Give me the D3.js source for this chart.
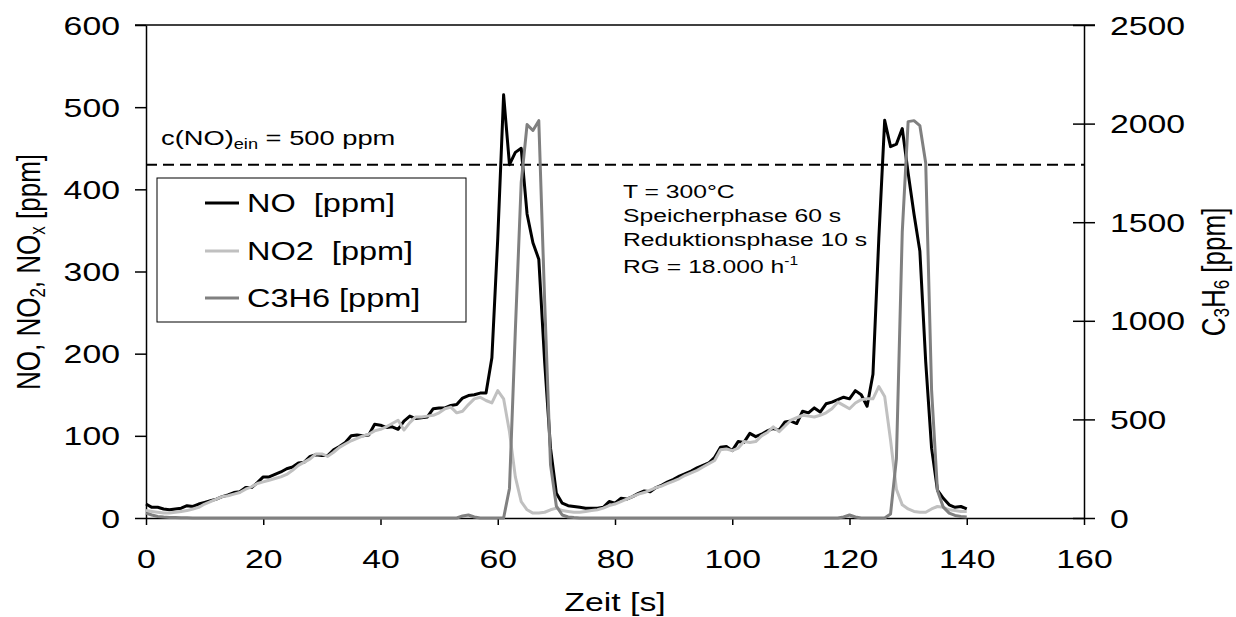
<!DOCTYPE html>
<html><head><meta charset="utf-8">
<script src="https://cdn.jsdelivr.net/npm/d3@7"></script>
<style>
body{margin:0;background:#fff}
text{font-family:"Liberation Sans",Arial,Helvetica,sans-serif;fill:#000}
</style>
</head><body>
<svg id="chart" width="1236" height="617"></svg>
<script>
// ---------------- DATA ----------------
const time = [0,1,2,3,4,5,6,7,8,9,10,11,12,13,14,15,16,17,18,19,20,21,22,23,24,25,26,27,28,29,30,31,32,33,34,35,36,37,38,39,40,41,42,43,44,45,46,47,48,49,50,51,52,53,54,55,56,57,58,59,60,61,62,63,64,65,66,67,68,69,70,71,72,73,74,75,76,77,78,79,80,81,82,83,84,85,86,87,88,89,90,91,92,93,94,95,96,97,98,99,100,101,102,103,104,105,106,107,108,109,110,111,112,113,114,115,116,117,118,119,120,121,122,123,124,125,126,127,128,129,130,131,132,133,134,135,136,137,138,139,140];

const seriesNO = [
 17,13,13,11,10,11,12,15,14,17,
 19,21,23,26,28,31,32,37,37,43,
 50,50,53,56,60,62,67,68,75,77,
 76,76,83,87,92,100,101,100,101,114,
 113,110,111,108,118,124,121,122,123,133,
 134,134,137,138,146,149,150,152,152,195,
 340,515,430,445,450,370,335,315,190,85,
 30,18,15,14,13,12,12,12,13,20,
 18,24,23,26,30,33,32,37,40,44,
 47,51,54,57,61,64,67,74,86,87,
 82,93,92,103,99,102,106,109,107,117,
 118,115,130,128,134,129,139,141,144,147,
 145,155,150,136,175,340,484,452,455,474,
 420,370,325,190,85,34,24,16,13,14,
 11];

const seriesNO2 = [
 9,8,7,6,6,7,8,9,11,13,
 17,20,23,26,27,29,31,35,38,42,
 44,46,48,50,53,58,64,68,72,78,
 78,75,80,86,90,94,97,100,102,106,
 108,111,115,119,107,116,123,123,124,125,
 128,133,135,128,130,138,145,147,143,140,
 155,145,105,50,20,10,6,6,7,10,
 12,9,8,7,7,8,9,10,12,15,
 17,20,23,26,29,31,34,37,39,42,
 45,48,52,55,58,62,66,70,83,84,
 82,85,93,92,93,100,104,111,105,112,
 119,122,125,124,123,125,128,133,141,137,
 133,140,144,145,145,160,148,95,35,16,
 11,8,7,7,11,14,13,10,9,8,
 8];

const seriesC3H6 = [
 25,15,8,5,3,2,1,1,0,0,
 0,0,0,0,0,0,0,0,0,0,
 0,0,0,0,0,0,0,0,0,0,
 0,0,0,0,0,0,0,0,0,0,
 0,0,0,0,0,0,0,0,0,0,
 0,0,0,0,10,15,5,0,0,0,
 0,0,150,950,1700,1995,1965,2015,1100,270,
 60,15,5,2,0,0,0,0,0,0,
 0,0,0,0,0,0,0,0,0,0,
 0,0,0,0,0,0,0,0,0,0,
 0,0,0,0,0,0,0,0,0,0,
 0,0,0,0,0,0,0,0,0,5,
 15,5,0,0,0,0,0,20,300,1450,
 2010,2015,1990,1800,650,140,55,25,13,8,
 5];

const seriesNames  = ["NO  [ppm]", "NO2  [ppm]", "C3H6 [ppm]"];
const seriesColors = ["#000000", "#c0c0c0", "#808080"];
const xTicks      = [0,20,40,60,80,100,120,140,160];
const yLeftTicks  = [0,100,200,300,400,500,600];
const yRightTicks = [0,500,1000,1500,2000,2500];
const inletLevel  = 430;   // dashed reference line (left axis units)
const infoLines   = ["T = 300°C", "Speicherphase 60 s", "Reduktionsphase 10 s"];

// ---------------- LAYOUT ----------------
const svg = d3.select("#chart");
const L = 146, R = 1084, T = 25, B = 518;
const SX = 1.3;            // horizontal text stretch of the original
const x  = d3.scaleLinear().domain([0,160]).range([L,R]);
const yL = d3.scaleLinear().domain([0,600]).range([B,T]);
const yR = d3.scaleLinear().domain([0,2500]).range([B,T]);
const fmt = d3.format("d");

// top frame line
svg.append("line").attr("x1",135).attr("x2",1095).attr("y1",T).attr("y2",T)
  .attr("stroke","#000").attr("stroke-width",1.5);

// left axis
const gL = svg.append("g").attr("transform",`translate(${L},0)`)
  .call(d3.axisLeft(yL).tickValues(yLeftTicks).tickFormat(fmt).tickSize(11).tickSizeOuter(0).tickPadding(15));
gL.selectAll("text").each(function(){
  const t = d3.select(this); const xx = +t.attr("x");
  t.attr("x",0).attr("dy","0.35em").attr("transform",`translate(${xx},0) scale(${SX},1)`);
}).style("font-size","26px");

// bottom axis
const gB = svg.append("g").attr("transform",`translate(0,${B})`)
  .call(d3.axisBottom(x).tickValues(xTicks).tickFormat(fmt).tickSize(7).tickSizeOuter(0));
gB.selectAll("text").attr("y",0).attr("dy","0.35em")
  .attr("transform",`translate(0,41) scale(${SX},1)`)
  .style("font-size","26px");

// right axis
const gR = svg.append("g").attr("transform",`translate(${R},0)`)
  .call(d3.axisRight(yR).tickValues(yRightTicks).tickFormat(fmt).tickSize(11).tickSizeOuter(0).tickPadding(15));
gR.selectAll(".tick line").attr("x1",-11);
gR.selectAll("text").each(function(){
  const t = d3.select(this); const xx = +t.attr("x");
  t.attr("x",0).attr("dy","0.35em").attr("transform",`translate(${xx},0) scale(${SX},1)`);
}).style("font-size","26px");

[gL,gB,gR].forEach(g=>{
  g.attr("font-family",null).attr("font-size",null);
  g.selectAll("path.domain, .tick line").attr("stroke","#000").attr("stroke-width",1.5);
});

// axis titles
svg.append("g").attr("transform",`translate(615,611) scale(${SX},1)`)
  .append("text").attr("text-anchor","middle").style("font-size","26px").text("Zeit [s]");

const yt = svg.append("g").attr("transform",`translate(40,272) scale(${SX},1) rotate(-90)`)
  .append("text").attr("text-anchor","middle").style("font-size","26px");
yt.append("tspan").text("NO, NO");
yt.append("tspan").attr("dy",4).style("font-size","17px").text("2");
yt.append("tspan").attr("dy",-4).text(", NO");
yt.append("tspan").attr("dy",4).style("font-size","17px").text("x");
yt.append("tspan").attr("dy",-4).text(" [ppm]");

const rt = svg.append("g").attr("transform",`translate(1225,272) scale(${SX},1) rotate(-90)`)
  .append("text").attr("text-anchor","middle").style("font-size","26px");
rt.append("tspan").text("C");
rt.append("tspan").attr("dy",3).style("font-size","17px").text("3");
rt.append("tspan").attr("dy",-3).text("H");
rt.append("tspan").attr("dy",3).style("font-size","17px").text("6");
rt.append("tspan").attr("dy",-3).text(" [ppm]");

// dashed inlet line
svg.append("line").attr("x1",L).attr("x2",R).attr("y1",yL(inletLevel)).attr("y2",yL(inletLevel))
  .attr("stroke","#000").attr("stroke-width",2).attr("stroke-dasharray","11,6");

const ct = svg.append("g").attr("transform",`translate(161,145) scale(${SX},1)`)
  .append("text").style("font-size","21px");
ct.append("tspan").text("c(NO)");
ct.append("tspan").attr("dy",4).style("font-size","14px").text("ein");
ct.append("tspan").attr("dy",-4).text(" = 500 ppm");

// info text
const infoY = [198,222,246];
infoLines.forEach((s,i)=>{
  svg.append("g").attr("transform",`translate(623,${infoY[i]}) scale(${SX},1)`)
    .append("text").style("font-size","19px").text(s);
});
const rg = svg.append("g").attr("transform",`translate(623,273) scale(${SX},1)`)
  .append("text").style("font-size","19px");
rg.append("tspan").text("RG = 18.000 h");
rg.append("tspan").attr("dy",-8).style("font-size","12px").text("-1");

// ---------------- DATA LINES ----------------
const lineL = d3.line().x((d,i)=>x(time[i])).y(d=>yL(d));
const lineR = d3.line().x((d,i)=>x(time[i])).y(d=>yR(d));
const plot = svg.append("g");
plot.append("path").datum(seriesNO).attr("d",lineL).attr("fill","none")
  .attr("stroke",seriesColors[0]).attr("stroke-width",3).attr("stroke-linejoin","round");
plot.append("path").datum(seriesNO2).attr("d",lineL).attr("fill","none")
  .attr("stroke",seriesColors[1]).attr("stroke-width",3).attr("stroke-linejoin","round");
plot.append("path").datum(seriesC3H6).attr("d",lineR).attr("fill","none")
  .attr("stroke",seriesColors[2]).attr("stroke-width",3).attr("stroke-linejoin","round");

// ---------------- LEGEND ----------------
const lg = svg.append("g");
lg.append("rect").attr("x",157).attr("y",178).attr("width",309).attr("height",144)
  .attr("fill","#fff").attr("stroke","#000").attr("stroke-width",1);
const rowsY = [203,251,298];
seriesNames.forEach((n,i)=>{
  lg.append("line").attr("x1",205).attr("x2",239).attr("y1",rowsY[i]).attr("y2",rowsY[i])
    .attr("stroke",seriesColors[i]).attr("stroke-width",3);
  lg.append("g").attr("transform",`translate(247,${rowsY[i]}) scale(${SX},1)`)
    .append("text").attr("dy","0.35em").style("font-size","25px").style("white-space","pre").text(n);
});
</script>
</body></html>
